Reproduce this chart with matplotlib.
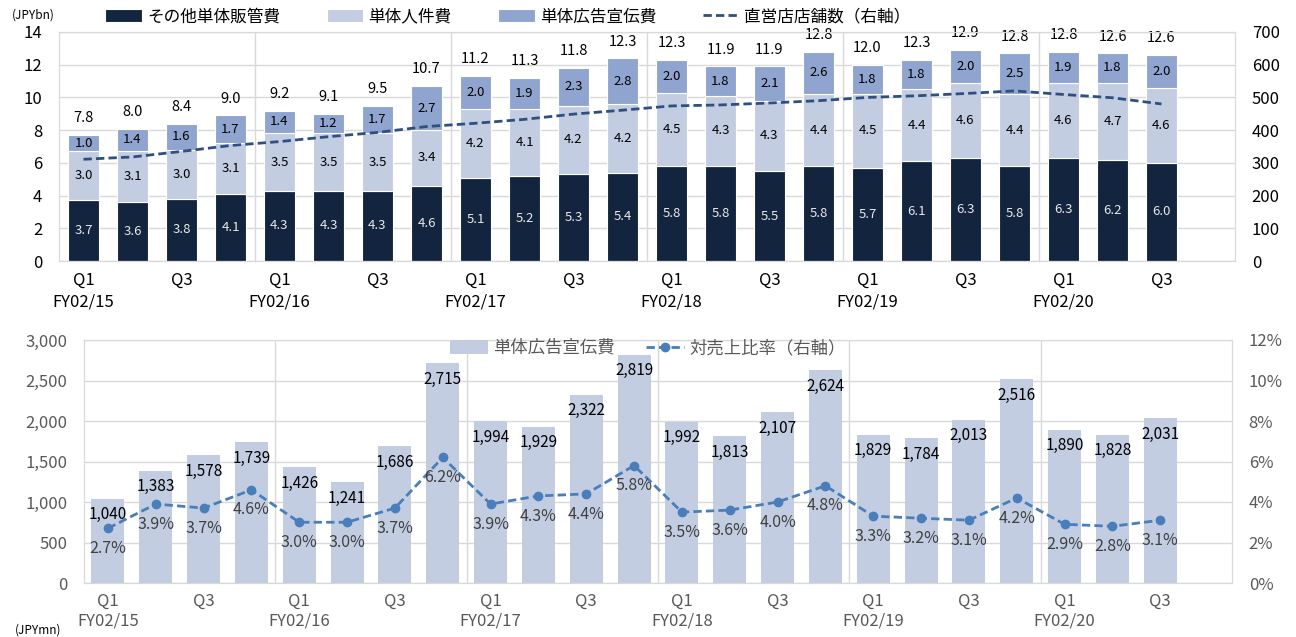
import numpy as np
import matplotlib
matplotlib.use('Agg')
import matplotlib.pyplot as plt
from matplotlib.ticker import FuncFormatter
from matplotlib.transforms import blended_transform_factory

plt.rcParams['font.family'] = ['Noto Sans CJK JP', 'DejaVu Sans']

# quarter labels, FY02/15 Q1 .. FY02/20 Q3
years = ['FY02/15', 'FY02/16', 'FY02/17', 'FY02/18', 'FY02/19', 'FY02/20']
quarters = ['Q1', 'Q2', 'Q3', 'Q4']

# top chart (JPYbn)
other_sga = [3.7, 3.6, 3.8, 4.1, 4.3, 4.3, 4.3, 4.6, 5.1, 5.2, 5.3, 5.4,
             5.8, 5.8, 5.5, 5.8, 5.7, 6.1, 6.3, 5.8, 6.3, 6.2, 6.0]
personnel = [3.0, 3.1, 3.0, 3.1, 3.5, 3.5, 3.5, 3.4, 4.2, 4.1, 4.2, 4.2,
             4.5, 4.3, 4.3, 4.4, 4.5, 4.4, 4.6, 4.4, 4.6, 4.7, 4.6]
advert = [1.0, 1.4, 1.6, 1.7, 1.4, 1.2, 1.7, 2.7, 2.0, 1.9, 2.3, 2.8,
          2.0, 1.8, 2.1, 2.6, 1.8, 1.8, 2.0, 2.5, 1.9, 1.8, 2.0]
totals = [7.8, 8.0, 8.4, 9.0, 9.2, 9.1, 9.5, 10.7, 11.2, 11.3, 11.8, 12.3,
          12.3, 11.9, 11.9, 12.8, 12.0, 12.3, 12.9, 12.8, 12.8, 12.6, 12.6]
stores = [311, 318, 335, 353, 365, 380, 393, 411, 421, 433, 449, 461,
          474, 477, 483, 490, 500, 505, 512, 520, 509, 499, 480]

# bottom chart (JPYmn)
ad_spend = [1040, 1383, 1578, 1739, 1426, 1241, 1686, 2715, 1994, 1929, 2322, 2819,
            1992, 1813, 2107, 2624, 1829, 1784, 2013, 2516, 1890, 1828, 2031]
ad_ratio = [2.7, 3.9, 3.7, 4.6, 3.0, 3.0, 3.7, 6.2, 3.9, 4.3, 4.4, 5.8,
            3.5, 3.6, 4.0, 4.8, 3.3, 3.2, 3.1, 4.2, 2.9, 2.8, 3.1]

NAVY = '#13243f'
LIGHT = '#c3cde2'
MID = '#8fa5cf'
LINE_TOP = '#2f4f7f'
LINE_BOT = '#4a7ebb'
GRID = '#d9d9d9'
GRAY = '#595959'

n = len(totals)
x = np.arange(n)

fig = plt.figure(figsize=(12.96, 6.37), dpi=100)
W, H = 1296, 637


def make_axes(left, right, top, bottom):
    return fig.add_axes([left / W, 1 - bottom / H, (right - left) / W, (bottom - top) / H])


def style_axes(ax, ax2, color):
    for a in (ax, ax2):
        for s in a.spines.values():
            s.set_color(GRID)
        a.tick_params(length=0, pad=12, labelsize=12, colors=color)
    ax.set_xlim(-0.5, 23.5)
    ax.set_xticks([])
    ax.yaxis.grid(True, color=GRID, lw=1)
    ax.set_axisbelow(True)
    for b in range(4, n, 4):
        ax.axvline(b - 0.5, color=GRID, lw=1, zorder=0)


def quarter_labels(ax, color, dy1, dy2):
    tr = blended_transform_factory(ax.transData, ax.transAxes)
    h = ax.get_position().height * H
    for i in range(n):
        q = quarters[i % 4]
        if q in ('Q1', 'Q3'):
            ax.text(i, -dy1 / h, q, transform=tr, ha='center', va='center',
                    fontsize=12, color=color)
        if q == 'Q1':
            ax.text(i, -dy2 / h, years[i // 4], transform=tr, ha='center', va='center',
                    fontsize=12, color=color)


# ---------- top chart ----------
ax = make_axes(59, 1235, 32, 261)
ax2 = ax.twinx()
style_axes(ax, ax2, 'black')

bottom2 = np.array(other_sga)
bottom3 = bottom2 + np.array(personnel)
b1 = ax.bar(x, other_sga, 0.65, color=NAVY, edgecolor='white', lw=0.8, label='その他単体販管費')
b2 = ax.bar(x, personnel, 0.65, bottom=bottom2, color=LIGHT, edgecolor='white', lw=0.8, label='単体人件費')
b3 = ax.bar(x, advert, 0.65, bottom=bottom3, color=MID, edgecolor='white', lw=0.8, label='単体広告宣伝費')
ax.set_ylim(0, 14)
ax.set_yticks(range(0, 15, 2))

for i in range(n):
    ax.text(i, other_sga[i] / 2, f'{other_sga[i]:.1f}', ha='center', va='center',
            fontsize=9.5, color='#e8e8e8')
    ax.text(i, bottom2[i] + personnel[i] / 2, f'{personnel[i]:.1f}', ha='center', va='center',
            fontsize=9.5, color='black')
    ax.text(i, bottom3[i] + advert[i] / 2, f'{advert[i]:.1f}', ha='center', va='center',
            fontsize=9.5, color='black')
    ax.annotate(f'{totals[i]:.1f}', (i, bottom3[i] + advert[i]), xytext=(0, 12),
                textcoords='offset points', ha='center', va='center', fontsize=10.5)

l1, = ax2.plot(x, stores, ls=(0, (3, 1.5)), color=LINE_TOP, lw=2, label='直営店店舗数（右軸）')
ax2.set_ylim(0, 700)
ax2.set_yticks(range(0, 701, 100))
quarter_labels(ax, 'black', 19, 41)

fig.text(12 / W, 1 - 15 / H, '(JPYbn)', fontsize=8.5, va='center', ha='left')
fig.legend(handles=[b1, b2, b3, l1], loc='center', bbox_to_anchor=(508 / W, 1 - 17 / H),
           ncol=4, frameon=False, fontsize=12, handlelength=2.2, handleheight=0.8,
           handletextpad=0.3, columnspacing=2.8)

# ---------- bottom chart ----------
bx = make_axes(84, 1232, 340, 583)
bx2 = bx.twinx()
style_axes(bx, bx2, GRAY)

bars = bx.bar(x, ad_spend, 0.69, color=LIGHT, label='単体広告宣伝費')
bx.set_ylim(0, 3000)
bx.set_yticks(range(0, 3001, 500))
bx.yaxis.set_major_formatter(FuncFormatter(lambda v, p: f'{int(v):,}'))
for i in range(n):
    bx.annotate(f'{ad_spend[i]:,}', (i, ad_spend[i]), xytext=(0, -11.5),
                textcoords='offset points', ha='center', va='center', fontsize=11)

l2, = bx2.plot(x, ad_ratio, ls=(0, (3, 1.5)), color=LINE_BOT, lw=2, marker='o',
               markersize=6, label='対売上比率（右軸）')
bx2.set_ylim(0, 12)
bx2.set_yticks(range(0, 13, 2))
bx2.yaxis.set_major_formatter(FuncFormatter(lambda v, p: f'{int(v)}%'))
for i in range(n):
    bx2.annotate(f'{ad_ratio[i]:.1f}%', (i, ad_ratio[i]), xytext=(0, -14.5),
                 textcoords='offset points', ha='center', va='center', fontsize=11.5,
                 color='#404040')
quarter_labels(bx, GRAY, 18, 38)

fig.text(15 / W, 1 - 630 / H, '(JPYmn)', fontsize=8.5, va='center', ha='left')
fig.legend(handles=[bars, l2], loc='center', bbox_to_anchor=(648 / W, 1 - 348 / H),
           ncol=2, frameon=False, fontsize=12.5, handlelength=2.2, handleheight=0.8,
           handletextpad=0.3, columnspacing=1.8, labelcolor=GRAY)

fig.savefig('out.png', dpi=100)
